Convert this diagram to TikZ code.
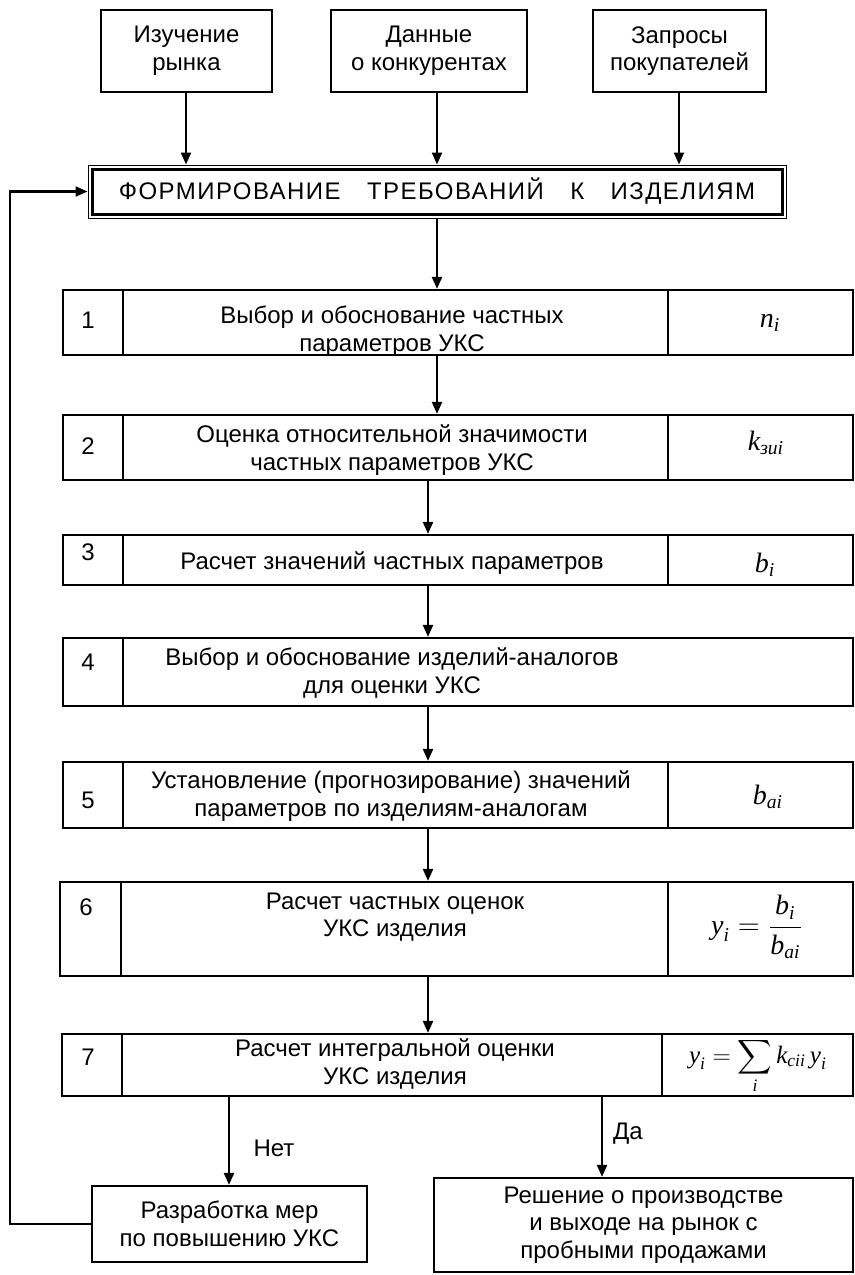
\documentclass[tikz,border=0pt]{standalone}
\usepackage{amsmath}
\usepackage{fontspec}
\setmainfont{Liberation Sans}
\newfontfamily\fser{Liberation Serif}
\newcommand{\mv}[1]{\text{\fser\itshape #1}}
\usetikzlibrary{arrows.meta,fit}
\tikzset{
  cell/.style={draw, line width=1.1pt, inner sep=0pt},
  txt/.style={inner sep=0pt, align=center, font=\fontsize{12}{13.8}\selectfont},
  frm/.style={inner sep=0pt, font=\fontsize{14}{16}\selectfont},
  arr/.style={-{Triangle[length=6pt,width=5pt]}, line width=1.1pt}
}
\begin{document}
\begin{tikzpicture}[x=0.5pt,y=-0.5pt]
\useasboundingbox (0,0) rectangle (855,1275);
% top boxes
\node[cell, fit={(101,10)(272,92)}] (t1) {};
\node[cell, fit={(331,10)(527,92)}] (t2) {};
\node[cell, fit={(593,10)(766,92)}] (t3) {};
\node[txt] (t1t) at (t1) {Изучение\\рынка};
\node[txt] (t2t) at (t2) {Данные\\о конкурентах};
\node[txt] (t3t) at (t3) {Запросы\\покупателей};
% requirements box
\node[draw, line width=0.5pt, inner sep=0pt, fit={(88,165)(786,218)}] (req) {};
\node[draw, line width=1.5pt, inner sep=0pt, fit={(92,169)(782,214)}] (reqi) {};
\node[txt, font=\fontsize{12}{14}\selectfont\addfontfeature{LetterSpace=6}] (reqt) at (req)
  {ФОРМИРОВАНИЕ\hspace{1.1em}ТРЕБОВАНИЙ\hspace{1.1em}К\hspace{1.1em}ИЗДЕЛИЯМ};
% rows
\node[cell, fit={(63,290)(123,355)}] (r1n) {};
\node[cell, fit={(123,290)(668,355)}] (r1m) {};
\node[cell, fit={(668,290)(853,355)}] (r1f) {};
\node[cell, fit={(63,415)(123,480)}] (r2n) {};
\node[cell, fit={(123,415)(668,480)}] (r2m) {};
\node[cell, fit={(668,415)(853,480)}] (r2f) {};
\node[cell, fit={(63,535)(123,585)}] (r3n) {};
\node[cell, fit={(123,535)(668,585)}] (r3m) {};
\node[cell, fit={(668,535)(853,585)}] (r3f) {};
\node[cell, fit={(63,638)(123,706)}] (r4n) {};
\node[cell, fit={(123,638)(853,706)}] (r4m) {};
\node[cell, fit={(63,762)(123,828)}] (r5n) {};
\node[cell, fit={(123,762)(668,828)}] (r5m) {};
\node[cell, fit={(668,762)(853,828)}] (r5f) {};
\node[cell, fit={(60,882)(121,976)}] (r6n) {};
\node[cell, fit={(121,882)(668,976)}] (r6m) {};
\node[cell, fit={(668,882)(853,976)}] (r6f) {};
\node[cell, fit={(62,1034)(122,1096)}] (r7n) {};
\node[cell, fit={(122,1034)(662,1096)}] (r7m) {};
\node[cell, fit={(662,1034)(853,1096)}] (r7f) {};
% numbers
\node[txt] (n1) at (88,320) {1};
\node[txt] (n2) at (88,446) {2};
\node[txt] (n3) at (88,552) {3};
\node[txt] (n4) at (88,662) {4};
\node[txt] (n5) at (88,800) {5};
\node[txt] (n6) at (86,907) {6};
\node[txt] (n7) at (88,1057) {7};
% row texts
\node[txt] (m1) at (392,331) {Выбор и обоснование частных\\параметров УКС};
\node[txt] (m2) at (392,450) {Оценка относительной значимости\\частных параметров УКС};
\node[txt] (m3) at (392,563) {Расчет значений частных параметров};
\node[txt] (m4) at (392,673) {Выбор и обоснование изделий-аналогов\\для оценки УКС};
\node[txt] (m5) at (391,796) {Установление (прогнозирование) значений\\параметров по изделиям-аналогам};
\node[txt] (m6) at (395,917) {Расчет частных оценок\\УКС изделия};
\node[txt] (m7) at (395,1064) {Расчет интегральной оценки\\УКС изделия};
% formulas
\node[frm] (f1) at (770,323) {$\mv{n}_{\mv{i}}$};
\node[frm] (f2) at (766,443) {$\mv{k}_{\mv{зиi}}$};
\node[frm] (f3) at (765,565) {$\mv{b}_{\mv{i}}$};
\node[frm] (f5) at (768,797) {$\mv{b}_{\mv{ai}}$};
\node[frm] (f6) at (757,927) {$\mv{y}_{\mv{i}}=\dfrac{\mv{b}_{\mv{i}}}{\mv{b}_{\mv{ai}}}$};
\node[frm, font=\fontsize{12.5}{14}\selectfont] (f7) at (758,1066) {$\mv{y}_{\mv{i}}=\displaystyle\sum_{\mv{i}}\mv{k}_{\mv{cii}}\,\mv{y}_{\mv{i}}$};
% bottom boxes
\node[cell, fit={(92,1186)(367,1262)}] (fb) {};
\node[cell, fit={(434,1178)(853,1272)}] (ok) {};
\node[txt] (fbt) at (fb) {Разработка мер\\по повышению УКС};
\node[txt] (okt) at (ok) {Решение о производстве\\и выходе на рынок с\\пробными продажами};
% arrow x positions
\coordinate (a1) at (186,0);
\coordinate (a2) at (437,0);
\coordinate (a3) at (679,0);
\coordinate (a4) at (428,0);
\coordinate (an) at (229,0);
\coordinate (ay) at (602,0);
\coordinate (lx) at (10,0);
% arrows
\draw[arr] (a1 |- t1.south) -- (a1 |- req.north);
\draw[arr] (a2 |- t2.south) -- (a2 |- req.north);
\draw[arr] (a3 |- t3.south) -- (a3 |- req.north);
\draw[arr] (a2 |- req.south) -- (a2 |- r1m.north);
\draw[arr] (a2 |- r1m.south) -- (a2 |- r2m.north);
\draw[arr] (a4 |- r2m.south) -- (a4 |- r3m.north);
\draw[arr] (a4 |- r3m.south) -- (a4 |- r4m.north);
\draw[arr] (a4 |- r4m.south) -- (a4 |- r5m.north);
\draw[arr] (a4 |- r5m.south) -- (a4 |- r6m.north);
\draw[arr] (a4 |- r6m.south) -- (a4 |- r7m.north);
\draw[arr] (an |- r7m.south) -- (an |- fb.north);
\draw[arr] (ay |- r7m.south) -- (ay |- ok.north);
\node[txt] (lno) at (274,1148) {Нет};
\node[txt] (lyes) at (628,1134) {Да};
\draw[arr] (fb.west) -- (fb.west -| lx) |- (req.west);
\end{tikzpicture}
\end{document}
